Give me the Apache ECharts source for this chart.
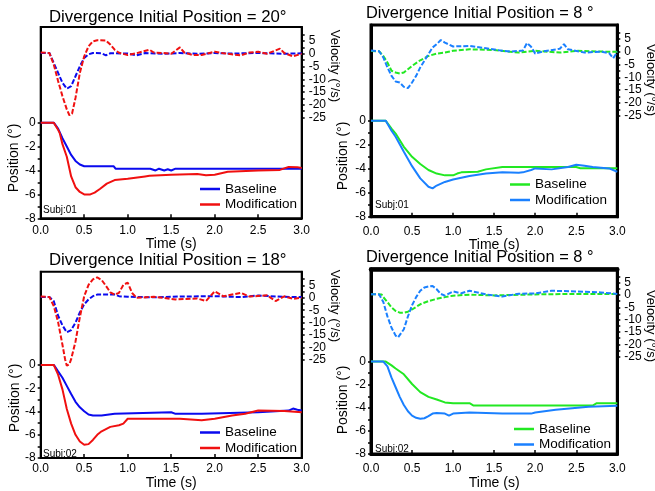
<!DOCTYPE html>
<html>
<head>
<meta charset="utf-8">
<script src="https://cdn.jsdelivr.net/npm/echarts@6/dist/echarts.min.js"></script>
<style>html,body{margin:0;padding:0;background:#fff;}#c{width:655px;height:491px;}</style>
</head>
<body>
<div id="c"></div>
<script>
// ---------- data (time s, value) ----------
const TITLES = ['Divergence Initial Position = 20°', 'Divergence Initial Position = 8 °',
                'Divergence Initial Position = 18°', 'Divergence Initial Position = 8 °'];
const SUBJECTS = ['Subj:01', 'Subj:01', 'Subj:02', 'Subj:02'];
const LEGEND_NAMES = ['Baseline', 'Modification'];
const POS_LABELS = [-8, -6, -4, -2, 0];
const POS_TICKS = [-8, -7, -6, -5, -4, -3, -2, -1, 0];
const VEL_LABELS = [-25, -20, -15, -10, -5, 0, 5];
const VEL_TICKS = [-25, -22.5, -20, -17.5, -15, -12.5, -10, -7.5, -5, -2.5, 0, 2.5, 5, 7.5];

const TL_POS_BASE = [[0,0],[0.15,0],[0.2,-0.5],[0.25,-1.3],[0.3,-2.0],[0.35,-2.7],[0.4,-3.2],[0.45,-3.5],[0.5,-3.65],[0.6,-3.65],[0.84,-3.65],[0.86,-3.85],[1.2,-3.85],[1.22,-4.0],[1.26,-3.85],[1.32,-4.0],[1.36,-3.85],[1.42,-4.0],[1.46,-3.9],[1.5,-4.0],[1.55,-3.85],[1.98,-3.85],[2.0,-4.0],[2.03,-3.85],[2.5,-3.85],[3.0,-3.85]];
const TL_POS_MOD = [[0,0],[0.15,0],[0.2,-0.6],[0.22,-0.9],[0.25,-1.8],[0.3,-2.85],[0.35,-4.5],[0.4,-5.4],[0.45,-5.8],[0.5,-6.0],[0.57,-6.0],[0.62,-5.85],[0.68,-5.55],[0.76,-5.1],[0.85,-4.8],[1.0,-4.7],[1.2,-4.5],[1.25,-4.45],[1.5,-4.35],[1.8,-4.3],[1.9,-4.4],[2.0,-4.35],[2.15,-4.1],[2.5,-4.0],[2.75,-3.95],[2.85,-3.7],[2.95,-3.72],[3.0,-3.8]];
const TL_VEL_BASE = [[0,0.3],[0.1,0.3],[0.15,-3.6],[0.2,-7.5],[0.25,-11.4],[0.3,-13.7],[0.35,-12.7],[0.4,-8.8],[0.45,-4.9],[0.5,-1.6],[0.55,-0.2],[0.6,0.3],[0.7,0.2],[0.75,-0.6],[0.8,0.2],[1.0,0.1],[1.1,-0.6],[1.2,0.3],[1.4,0],[1.6,0.3],[1.8,0],[2.0,0.3],[2.2,0.1],[2.5,0.3],[2.8,0],[3.0,0.2]];
const TL_VEL_MOD = [[0,0.5],[0.1,0.3],[0.15,-4.2],[0.2,-10.7],[0.25,-16.6],[0.3,-21.8],[0.33,-24.1],[0.36,-23.5],[0.4,-17.3],[0.45,-7.5],[0.5,-1],[0.55,2.9],[0.6,4.9],[0.65,5.3],[0.75,5.2],[0.8,3.6],[0.85,1.6],[0.9,0.4],[1.0,-0.5],[1.1,0.2],[1.25,1.6],[1.3,0.5],[1.4,0.3],[1.5,0],[1.6,2.5],[1.65,0.5],[1.75,-0.5],[1.85,-0.5],[2.0,0.8],[2.1,0.2],[2.3,-0.6],[2.4,0.5],[2.5,0.8],[2.6,0],[2.75,2.0],[2.8,0.3],[2.9,-1],[3.0,0]];

const TR_POS_BASE = [[0,0],[0.18,0],[0.25,-0.64],[0.3,-1.06],[0.4,-2.17],[0.5,-3.0],[0.6,-3.6],[0.7,-4.1],[0.8,-4.4],[0.9,-4.55],[1.0,-4.55],[1.05,-4.4],[1.1,-4.3],[1.3,-4.25],[1.4,-4.05],[1.6,-3.85],[2.5,-3.85],[2.55,-3.95],[3.0,-3.95]];
const TR_POS_MOD = [[0,0],[0.18,0],[0.25,-0.83],[0.3,-1.33],[0.4,-2.58],[0.5,-3.78],[0.6,-4.8],[0.7,-5.5],[0.75,-5.64],[0.8,-5.4],[0.9,-5.1],[1.0,-4.9],[1.2,-4.6],[1.4,-4.4],[1.6,-4.3],[1.8,-4.33],[1.85,-4.3],[1.95,-4.1],[2.0,-3.97],[2.2,-4.05],[2.4,-3.85],[2.5,-3.67],[2.6,-3.75],[2.7,-3.85],[2.9,-3.97],[3.0,-4.25]];
const TR_VEL_BASE = [[0,0.3],[0.1,0.2],[0.15,-1.6],[0.2,-4.2],[0.25,-7.4],[0.3,-8.1],[0.35,-8.5],[0.4,-8.1],[0.45,-6.8],[0.5,-5.5],[0.6,-3.3],[0.7,-1.6],[0.8,-0.7],[0.9,-0.3],[1.0,0.4],[1.2,1.0],[1.5,0.7],[1.8,-0.3],[2.0,0.4],[2.3,-0.3],[2.5,0.4],[2.8,0.1],[3.0,0]];
const TR_VEL_MOD = [[0,0.5],[0.1,0.2],[0.15,-2.2],[0.2,-6.1],[0.25,-9.4],[0.3,-11.6],[0.35,-12],[0.4,-13.7],[0.45,-14.2],[0.5,-12],[0.55,-9.4],[0.6,-6.1],[0.65,-3.5],[0.7,-0.9],[0.75,1.7],[0.8,3.0],[0.85,4.6],[0.9,3.6],[1.0,2.1],[1.2,2.3],[1.4,1.4],[1.6,0.4],[1.7,0.1],[1.85,0.5],[1.9,3.4],[1.95,2],[2.0,-0.7],[2.1,0.2],[2.3,1.2],[2.35,3],[2.4,1.0],[2.6,-0.3],[2.8,0.1],[2.9,-0.5],[2.95,-2.5],[3.0,0]];

const BL_POS_BASE = [[0,0],[0.15,0],[0.2,-0.56],[0.25,-1.1],[0.3,-1.8],[0.35,-2.5],[0.4,-3.17],[0.45,-3.64],[0.5,-3.98],[0.55,-4.26],[0.6,-4.34],[0.7,-4.34],[0.72,-4.2],[0.85,-4.2],[0.86,-4.06],[1.5,-4.06],[1.55,-4.2],[1.85,-4.2],[1.87,-4.06],[2.5,-4.06],[2.52,-3.92],[2.85,-3.92],[2.9,-3.75],[2.95,-3.85],[3.0,-3.92]];
const BL_POS_MOD = [[0,0],[0.15,0],[0.2,-0.84],[0.25,-2.1],[0.3,-3.78],[0.35,-5.04],[0.4,-6.0],[0.45,-6.58],[0.5,-6.86],[0.55,-6.8],[0.6,-6.44],[0.65,-6.0],[0.7,-5.7],[0.8,-5.32],[0.9,-5.18],[0.95,-5.04],[1.0,-4.62],[1.6,-4.62],[1.85,-4.76],[2.0,-4.62],[2.2,-4.34],[2.35,-4.2],[2.5,-3.92],[2.8,-3.95],[3.0,-4.06]];
const BL_VEL_BASE = [[0,0.3],[0.1,0.3],[0.15,-1.3],[0.2,-7.2],[0.25,-11.1],[0.3,-13.9],[0.35,-13],[0.4,-10],[0.45,-5.9],[0.5,-2.6],[0.55,-0.65],[0.6,0.65],[0.65,1.3],[0.85,1.3],[0.9,0.65],[1.0,0.4],[1.3,0.2],[1.6,0.5],[2.0,0.65],[2.3,0.3],[2.5,0.9],[2.8,0.4],[3.0,0.3]];
const BL_VEL_MOD = [[0,0.5],[0.1,0.3],[0.15,-3.3],[0.2,-9.8],[0.25,-18.9],[0.28,-24.7],[0.3,-27.3],[0.33,-26.7],[0.35,-24.7],[0.4,-17.6],[0.45,-7.8],[0.5,0.65],[0.55,5.2],[0.6,7.4],[0.65,8.2],[0.7,7.2],[0.75,4.8],[0.8,2.2],[0.85,1.3],[0.9,2.0],[0.95,5.2],[1.0,6.1],[1.05,2.0],[1.1,0],[1.3,0.4],[1.55,-0.65],[1.8,-0.3],[1.9,-1.3],[2.0,2.6],[2.1,0.6],[2.3,2.0],[2.4,0.5],[2.6,1.0],[2.7,-1.3],[2.8,0.6],[2.9,-0.4],[3.0,0]];

const BR_POS_BASE = [[0,0],[0.18,0],[0.25,-0.33],[0.3,-0.6],[0.4,-1.1],[0.5,-1.94],[0.6,-2.64],[0.7,-3.05],[0.8,-3.28],[0.9,-3.53],[1.0,-3.6],[1.2,-3.6],[1.25,-3.8],[2.13,-3.8],[2.15,-3.7],[2.18,-3.8],[2.7,-3.8],[2.75,-3.6],[3.0,-3.6]];
const BR_POS_MOD = [[0,0],[0.15,0],[0.2,-0.42],[0.25,-1.39],[0.3,-2.22],[0.35,-3.05],[0.4,-3.75],[0.45,-4.3],[0.5,-4.67],[0.55,-4.86],[0.6,-4.94],[0.65,-4.9],[0.7,-4.72],[0.75,-4.5],[0.8,-4.44],[0.9,-4.5],[0.95,-4.67],[1.0,-4.5],[1.2,-4.4],[1.6,-4.5],[1.95,-4.5],[2.0,-4.4],[2.25,-4.17],[2.45,-4.03],[2.65,-3.9],[3.0,-3.83]];
const BR_VEL_BASE = [[0,0.3],[0.13,0.2],[0.15,-0.9],[0.2,-2.9],[0.25,-5.1],[0.3,-6.5],[0.35,-7.2],[0.4,-7.2],[0.45,-6.8],[0.5,-5.9],[0.6,-3.8],[0.7,-2.5],[0.8,-1.6],[0.9,-0.9],[1.0,-0.3],[1.2,0.1],[1.5,-0.2],[2.0,0.2],[2.5,0.4],[3.0,0.4]];
const BR_VEL_MOD = [[0,0.3],[0.1,0.2],[0.15,-2.9],[0.2,-8.7],[0.25,-13.3],[0.3,-16.5],[0.33,-17.2],[0.35,-16.8],[0.4,-13.9],[0.45,-8.7],[0.5,-4.2],[0.55,-0.9],[0.6,1.7],[0.65,3.0],[0.7,3.4],[0.75,3.6],[0.8,2.3],[0.85,0.4],[0.9,-0.3],[1.0,1.4],[1.1,0.65],[1.2,1.7],[1.4,0.2],[1.6,-0.65],[1.8,0.5],[2.0,0.6],[2.2,1.7],[2.5,1.4],[2.8,1.0],[3.0,0.4]];

// ---------- layout / styles ----------
const FONT = '"Liberation Sans", Arial, sans-serif';
const panels = [
  {grid:{left:40.7, top:27, width:261, height:191.3}, bw:2, colors:['#0a0aee','#f01010'],
   data:[TL_POS_BASE, TL_POS_MOD, TL_VEL_BASE, TL_VEL_MOD], title:{left:49, top:9, size:16.8},
   legend:{left:200, top:182}, xLabelMargin:6, xNameGap:16,
   posName:{x:14, y:158}, velName:{x:335, y:66}, subj:{x:43, y:210.5}},
  {grid:{left:371, top:25, width:246.3, height:191.7}, bw:3, colors:['#22e822','#1a80ff'],
   data:[TR_POS_BASE, TR_POS_MOD, TR_VEL_BASE, TR_VEL_MOD], title:{left:366, top:5, size:16.4},
   legend:{left:510, top:177.5}, xLabelMargin:9, xNameGap:13,
   posName:{x:343, y:156}, velName:{x:651, y:80}, subj:{x:375, y:205}},
  {grid:{left:40.7, top:271.7, width:261, height:190}, bw:2, colors:['#0a0aee','#f01010'],
   data:[BL_POS_BASE, BL_POS_MOD, BL_VEL_BASE, BL_VEL_MOD], title:{left:49, top:252, size:16.8},
   legend:{left:200, top:425.5}, xLabelMargin:5, xNameGap:13,
   posName:{x:15, y:398}, velName:{x:335, y:306}, subj:{x:43, y:454}},
  {grid:{left:371, top:269, width:246.3, height:192}, bw:3, colors:['#22e822','#1a80ff'],
   data:[BR_POS_BASE, BR_POS_MOD, BR_VEL_BASE, BR_VEL_MOD], title:{left:366, top:249, size:16.4},
   legend:{left:514, top:422}, xLabelMargin:9, xNameGap:12, thickTop:true,
   posName:{x:343, y:400}, velName:{x:651, y:326}, subj:{x:375, y:449}}
];

const option = {
  animation:false,
  backgroundColor:'#fff',
  textStyle:{fontFamily:FONT},
  title:[], grid:[], xAxis:[], yAxis:[], series:[], legend:[], graphic:[]
};

panels.forEach((p, i) => {
  const tag = 'P' + i + ' ';
  option.title.push({text:TITLES[i], left:p.title.left, top:p.title.top, padding:0,
    textStyle:{fontSize:p.title.size, fontWeight:'normal', color:'#000', fontFamily:FONT}});
  option.grid.push(Object.assign({show:true, borderColor:'#000', borderWidth:p.bw, backgroundColor:'transparent'}, p.grid));
  option.xAxis.push({gridIndex:i, type:'value', min:0, max:3, interval:0.5,
    axisLine:{show:true, onZero:false, lineStyle:{color:'#000', width:p.bw}},
    axisTick:{show:true, inside:true, length:4, lineStyle:{color:'#000', width:1.5}},
    axisLabel:{color:'#000', fontSize:12, margin:p.xLabelMargin, formatter:v => v.toFixed(1)},
    splitLine:{show:false},
    name:'Time (s)', nameLocation:'middle', nameGap:p.xNameGap,
    nameTextStyle:{color:'#000', fontSize:14, fontFamily:FONT}});
  const posIdx = option.yAxis.length;
  option.yAxis.push({gridIndex:i, type:'value', position:'left', min:-8, max:8,
    axisLine:{show:true, onZero:false, lineStyle:{color:'#000', width:p.bw}},
    axisTick:{show:true, inside:false, length:3, customValues:POS_TICKS, lineStyle:{color:'#000', width:1.5}},
    axisLabel:{color:'#000', fontSize:12, margin:5, customValues:POS_LABELS, formatter:v => String(v)},
    splitLine:{show:false}});
  const velIdx = option.yAxis.length;
  option.yAxis.push({gridIndex:i, type:'value', position:'right', min:-64.5, max:10.5,
    axisLine:{show:true, onZero:false, lineStyle:{color:'#000', width:p.bw}},
    axisTick:{show:true, inside:false, length:3, customValues:VEL_TICKS, lineStyle:{color:'#000', width:1.5}},
    axisLabel:{color:'#000', fontSize:12, margin:7, customValues:VEL_LABELS, formatter:v => String(v)},
    splitLine:{show:false}});
  if (p.thickTop) {
    option.xAxis.push({gridIndex:i, type:'value', position:'top', min:0, max:3,
      axisLine:{show:true, onZero:false, lineStyle:{color:'#000', width:4.5}},
      axisTick:{show:false}, axisLabel:{show:false}, splitLine:{show:false}});
  }
  const xIdx = option.xAxis.findIndex(a => a.gridIndex === i);
  const names = [tag + LEGEND_NAMES[0], tag + LEGEND_NAMES[1]];
  // velocity (dashed)
  [2, 3].forEach(k => {
    option.series.push({type:'line', name:tag + 'vel' + k, xAxisIndex:xIdx, yAxisIndex:velIdx,
      data:p.data[k], symbol:'none', showSymbol:false, clip:false, silent:true,
      lineStyle:{color:p.colors[k - 2], width:2, type:[5, 2]}, itemStyle:{color:p.colors[k - 2]}});
  });
  // position (solid)
  [0, 1].forEach(k => {
    option.series.push({type:'line', name:names[k], xAxisIndex:xIdx, yAxisIndex:posIdx,
      data:p.data[k], symbol:'none', showSymbol:false, silent:true,
      lineStyle:{color:p.colors[k], width:2}, itemStyle:{color:p.colors[k]}});
  });
  option.legend.push({data:names.map(n => ({name:n, icon:'rect'})), orient:'vertical',
    left:p.legend.left, top:p.legend.top,
    padding:0, itemGap:1.5, itemWidth:20, itemHeight:2.5, selectedMode:false,
    formatter:n => n.slice(tag.length),
    textStyle:{color:'#000', fontSize:13.5, lineHeight:14, fontFamily:FONT}});
  option.graphic.push({type:'text', x:p.posName.x, y:p.posName.y, rotation:Math.PI / 2,
    style:{text:'Position (°)', font:'14px ' + FONT, fill:'#000', align:'center', verticalAlign:'middle'}});
  option.graphic.push({type:'text', x:p.velName.x, y:p.velName.y, rotation:-Math.PI / 2,
    style:{text:'Velocity (°/s)', font:'13px ' + FONT, fill:'#000', align:'center', verticalAlign:'middle'}});
  option.graphic.push({type:'text', x:p.subj.x, y:p.subj.y,
    style:{text:SUBJECTS[i], font:'10px ' + FONT, fill:'#000', align:'left', verticalAlign:'middle'}});
});

const chart = echarts.init(document.getElementById('c'), null, {renderer:'canvas'});
chart.setOption(option);
</script>
</body>
</html>
